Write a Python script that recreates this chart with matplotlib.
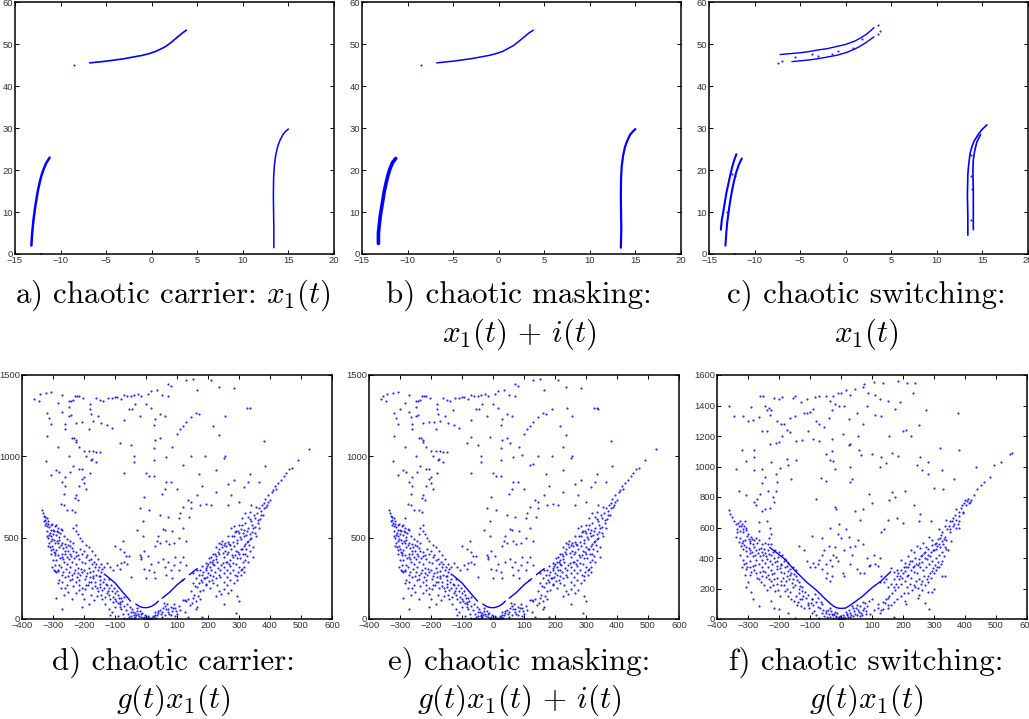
import matplotlib

matplotlib.use("Agg")

import matplotlib.pyplot as plt
import numpy as np

plt.rcParams["mathtext.fontset"] = "cm"
plt.rcParams["font.family"] = ["Liberation Sans", "DejaVu Sans"]

W, H = 1029, 719
BLUE = "#0000ff"

# top row, curves: (x, y)
carrier_left = [(-13.2, 2), (-13.15, 4), (-13.05, 6.5), (-12.95, 8.5), (-12.8, 11), (-12.65, 13), (-12.5, 15), (-12.3, 17), (-12.1, 18.7), (-11.9, 20), (-11.6, 21.6), (-11.2, 23)]
carrier_mid = [(-6.8, 45.6), (-5, 46), (-4, 46.3), (-3, 46.6), (-2, 47), (-1, 47.4), (-0.3, 47.8), (0.4, 48.3), (1, 48.9), (1.6, 49.6), (2.2, 50.6), (2.8, 51.7), (3.3, 52.6), (3.8, 53.4)]
carrier_right = [(13.4, 1.5), (13.4, 6), (13.37, 10), (13.35, 14), (13.37, 18), (13.45, 21), (13.6, 23.5), (13.8, 25.5), (14.05, 27), (14.4, 28.5), (14.7, 29.3), (15, 29.8)]
carrier_stray = [(-8.5, 45.2), (-12.2, 0.1)]

masking_left = [(-13.2, 2.5), (-13.2, 5), (-13.1, 7), (-13.0, 9), (-12.85, 11), (-12.7, 13), (-12.55, 15), (-12.35, 17), (-12.15, 18.8), (-11.95, 20.2), (-11.65, 21.8), (-11.3, 22.8)]
masking_mid = [(-6.8, 45.6), (-5, 46), (-4, 46.3), (-3, 46.6), (-2, 47), (-1, 47.4), (-0.3, 47.8), (0.4, 48.3), (1, 49), (1.6, 49.7), (2.2, 50.7), (2.8, 51.8), (3.3, 52.7), (3.8, 53.4)]
masking_right = [(13.4, 1.5), (13.45, 6), (13.42, 10), (13.4, 14), (13.42, 18), (13.5, 21), (13.65, 23.5), (13.85, 25.5), (14.1, 27), (14.4, 28.4), (14.7, 29.2), (15, 29.8)]
masking_stray = [(-8.5, 45.2)]

switch_left_a = [(-13.7, 5.8), (-13.6, 8), (-13.4, 10.5), (-13.25, 12.5), (-13.1, 14.5), (-12.9, 16.5), (-12.7, 18.5), (-12.45, 20.8), (-12.2, 22.6), (-12.0, 23.8)]
switch_left_b = [(-13.2, 2), (-13.1, 5), (-13.0, 7.5), (-12.85, 10), (-12.7, 12.3), (-12.5, 14.8), (-12.3, 17), (-12.05, 19.2), (-11.75, 21.2), (-11.4, 22.8)]
switch_mid_a = [(-7.2, 47.6), (-5, 48), (-4, 48.3), (-3, 48.7), (-2, 49), (-1, 49.5), (0, 50), (1, 50.8), (1.6, 51.5), (2.2, 52.3), (2.7, 53.2), (3.1, 54)]
switch_mid_b = [(-5.9, 45.9), (-4, 46.3), (-3, 46.6), (-2, 47), (-1, 47.4), (0, 48), (1, 48.9), (1.6, 49.6), (2.2, 50.4), (3.1, 51.8)]
switch_right_a = [(13.4, 4.5), (13.4, 9), (13.35, 14), (13.4, 19), (13.5, 21.5), (13.65, 24), (13.85, 25.6), (14.1, 27), (14.6, 28.7), (15, 29.8), (15.5, 30.8)]
switch_right_b = [(14.0, 5.8), (14.0, 10), (14.0, 15), (13.95, 20), (14.0, 22.5), (14.15, 24.6), (14.4, 26.8), (14.8, 28.5)]
switch_stray = [(-7.4, 45.5), (-7.0, 46), (-5.6, 47), (-3.7, 47.7), (-3.0, 47.3), (-1.5, 47.8), (-0.8, 48.4), (0.8, 49.2), (1.8, 51.3), (3.5, 54.7), (3.5, 52.6), (3.8, 53.2), (-12.3, 0.1), (-12.5, 19), (-12.2, 18.5), (-13.0, 10), (13.7, 8), (13.9, 15.5), (13.7, 18.5), (13.8, 23.5)]

# bottom row, scatter
carrier_arc = [(-130, 270), (-100, 222), (-75, 165), (-50, 110)]
carrier_arc_mid = [(-33, 92), (-20, 76), (-8, 70), (5, 70), (18, 78), (30, 92), (40, 110)]
carrier_arc_right = [(52, 128), (75, 162), (100, 210), (125, 248)]
carrier_arc2 = [(140, 272), (165, 310)]
carrier_upper = [
    (-361, 1355), (-345, 1340), (-343, 1385), (-322, 1390), (-307, 1395), (-285, 1330), (-320, 1265), (-312, 1235), (-305, 1200), (-318, 1125),
    (-322, 970), (-305, 885), (-283, 1055), (-272, 1270), (-272, 1380), (-262, 1200), (-250, 1340), (-243, 1340), (-235, 1345), (-228, 1370),
    (-222, 1370), (-215, 1370), (-248, 1305), (-250, 1250), (-243, 1255), (-226, 1205), (-225, 1090), (-233, 1110), (-225, 1100), (-215, 1060),
    (-202, 1360), (-182, 1320), (-180, 1290), (-178, 1260), (-160, 1360), (-150, 1345), (-155, 1250), (-140, 1340), (-122, 1360), (-110, 1360),
    (-100, 1365), (-92, 1365), (-80, 1350), (-70, 1375), (-60, 1370), (-50, 1370), (-40, 1375), (-25, 1385), (-15, 1370), (5, 1385),
    (15, 1400), (35, 1410), (50, 1380), (70, 1445), (80, 1435), (70, 1370), (-260, 1165), (-240, 1110), (-205, 1210), (-185, 1165),
    (-170, 1220), (-145, 1205), (-125, 1190), (-110, 1175), (-85, 1080), (-70, 1225), (-50, 1070), (-40, 1000), (-38, 965), (-70, 900),
    (-200, 1035), (-185, 1030), (-170, 1030), (-160, 1025), (-150, 1025), (-195, 1000), (-175, 985), (-160, 965), (-250, 1000), (-235, 940),
    (-245, 905), (-260, 870), (-270, 840), (-290, 915), (-280, 905), (-260, 820), (-265, 770), (-265, 700), (-275, 705), (-255, 670),
    (-240, 670), (-230, 655), (-225, 760), (-220, 730), (-228, 745), (-205, 925), (-215, 920), (-200, 870), (-200, 835), (-195, 800),
    (-208, 860), (-215, 820), (-180, 895), (-178, 975), (-35, 1320), (-55, 1290), (-45, 1290), (-20, 1250), (0, 1320), (15, 1300),
    (30, 1230), (45, 1260), (60, 1250), (25, 1190), (30, 1100), (25, 1050), (45, 1110), (65, 995), (85, 1060), (100, 1140), (110, 1170),
    (120, 1185), (130, 1210), (145, 1240), (160, 1265), (170, 1260), (165, 1410), (150, 1475), (130, 1470), (210, 1470), (235, 1425),
    (285, 1420), (215, 1185), (235, 1130), (255, 1245), (325, 1295), (335, 1295), (380, 1095), (385, 940), (335, 890), (330, 840),
    (365, 840), (285, 855), (265, 830), (225, 915), (170, 890), (180, 820), (165, 760), (175, 700), (195, 705), (210, 700), (225, 780),
    (250, 990), (255, 1000), (190, 1000), (145, 1005), (120, 945), (25, 975), (25, 880), (0, 895), (10, 880), (65, 845), (80, 840),
    (50, 770), (60, 800), (100, 800), (-30, 545), (-5, 750), (-20, 680), (-10, 605), (10, 670), (70, 630), (45, 640), (145, 720), (135, 730),
    (145, 680), (140, 630), (120, 690), (110, 650), (105, 620), (265, 700), (300, 720), (315, 810), (275, 760),
]
carrier_left_wedge = [
    (-335, 670), (-332, 650), (-328, 635), (-325, 610), (-320, 620), (-330, 600), (-325, 580), (-318, 570), (-312, 565), (-305, 575),
    (-295, 570), (-285, 560), (-275, 555), (-320, 540), (-310, 530), (-300, 525), (-290, 515), (-280, 505), (-315, 495), (-305, 480),
    (-295, 470), (-285, 465), (-310, 440), (-300, 430), (-290, 425), (-280, 440), (-270, 470), (-265, 510), (-255, 490), (-245, 480),
    (-235, 470), (-225, 540), (-235, 560), (-225, 580), (-218, 520), (-212, 500), (-205, 480), (-195, 455), (-185, 440), (-175, 420),
    (-165, 395), (-155, 370), (-145, 340), (-135, 320), (-305, 400), (-295, 395), (-300, 360), (-290, 360), (-295, 330), (-285, 300),
    (-275, 320), (-265, 350), (-255, 380), (-245, 400), (-235, 420), (-225, 390), (-215, 370), (-205, 350), (-195, 380), (-185, 360),
    (-175, 340), (-165, 320), (-155, 300), (-145, 290), (-135, 275), (-295, 295), (-285, 295), (-280, 240), (-270, 230), (-285, 220),
    (-275, 190), (-265, 150), (-290, 130), (-260, 260), (-250, 290), (-240, 270), (-230, 300), (-220, 280), (-210, 310), (-200, 300),
    (-190, 280), (-180, 260), (-170, 250), (-160, 270), (-150, 240), (-255, 210), (-245, 240), (-235, 200), (-225, 225), (-215, 240),
    (-205, 190), (-195, 210), (-185, 230), (-175, 190), (-165, 205), (-155, 170), (-145, 150), (-135, 190), (-125, 160), (-240, 120),
    (-225, 160), (-215, 180), (-200, 120), (-185, 90), (-270, 60), (-205, 75), (-150, 215), (-140, 230), (-130, 215), (-120, 190),
    (-110, 175), (-100, 160), (-90, 150), (-80, 130), (-115, 120), (-100, 120), (-85, 105), (-120, 145), (-260, 420), (-245, 450),
    (-315, 600), (-300, 550), (-270, 400), (-240, 350), (-225, 340), (-255, 340), (-315, 450), (-320, 510), (-288, 540), (-258, 445),
    (-125, 345), (-115, 320), (-105, 300), (-95, 330), (-85, 310), (-80, 345), (-70, 350), (-65, 385), (-55, 390), (-60, 340),
    (-100, 450), (-85, 430), (-75, 480), (-70, 410), (-50, 260),
]
carrier_left_dense = [
    (-327, 627), (-323, 593), (-316, 583), (-308, 548), (-302, 587), (-297, 543), (-291, 578), (-283, 537), (-277, 528), (-272, 547),
    (-313, 517), (-307, 508), (-302, 492), (-296, 487), (-288, 478), (-281, 486), (-274, 452), (-268, 437), (-262, 463), (-251, 452),
    (-312, 467), (-307, 423), (-303, 448), (-297, 412), (-292, 407), (-283, 392), (-278, 373), (-272, 383), (-267, 367), (-261, 398),
    (-253, 417), (-247, 368), (-242, 387), (-238, 438), (-231, 372), (-227, 412), (-219, 392), (-213, 428), (-208, 397), (-201, 417),
    (-197, 342), (-191, 392), (-183, 312), (-178, 368), (-172, 298), (-168, 352), (-161, 338), (-152, 322), (-147, 262), (-142, 306),
    (-302, 318), (-297, 304), (-291, 287), (-282, 332), (-272, 272), (-267, 291), (-258, 307), (-252, 263), (-246, 318), (-238, 247),
    (-232, 282), (-224, 258), (-218, 312), (-212, 268), (-206, 288), (-198, 246), (-192, 262), (-187, 208), (-182, 287), (-176, 229),
    (-171, 267), (-163, 228), (-158, 192), (-153, 262), (-147, 198), (-141, 178), (-137, 243), (-131, 137), (-127, 212), (-122, 172),
    (-118, 248), (-112, 208), (-107, 138), (-102, 192), (-97, 112), (-92, 172), (-87, 128), (-83, 92), (-78, 112), (-72, 137),
    (-217, 212), (-208, 152), (-197, 182), (-177, 147), (-167, 118), (-157, 142), (-142, 122), (-133, 92), (-262, 192), (-252, 168),
]
carrier_right_wedge = [
    (150, 285), (165, 300), (180, 325), (195, 345), (210, 380), (225, 440), (235, 470), (245, 480), (255, 470), (265, 475),
    (275, 560), (285, 570), (290, 540), (300, 530), (310, 575), (320, 590), (330, 630), (335, 660), (340, 600), (350, 620),
    (355, 690), (365, 680), (375, 700), (385, 740), (395, 760), (405, 780), (415, 820), (425, 835), (435, 855), (445, 880),
    (450, 900), (460, 920), (470, 930), (490, 975), (525, 1045), (420, 800), (400, 730), (380, 680), (360, 610), (345, 560),
    (350, 530), (335, 520), (325, 540), (315, 510), (305, 490), (295, 465), (285, 450), (275, 430), (265, 410), (255, 420),
    (245, 440), (235, 400), (225, 385), (215, 360), (205, 350), (195, 300), (185, 290), (175, 300), (320, 460), (310, 430),
    (300, 400), (290, 420), (280, 380), (270, 360), (260, 350), (250, 320), (240, 300), (230, 350), (220, 330), (210, 300),
    (200, 280), (190, 250), (180, 230), (170, 220), (160, 250), (150, 220), (330, 480), (340, 500), (345, 440), (335, 420),
    (325, 390), (318, 360), (310, 310), (300, 320), (290, 340), (280, 300), (270, 280), (260, 260), (250, 230), (240, 260),
    (230, 210), (215, 220), (205, 190), (195, 210), (185, 180), (175, 170), (165, 195), (155, 150), (145, 170), (135, 120),
    (125, 115), (315, 290), (305, 270), (295, 240), (285, 220), (275, 180), (265, 160), (250, 90), (235, 170), (225, 140),
    (300, 110), (290, 35), (315, 320), (320, 400), (330, 350), (345, 380), (355, 510), (365, 560), (370, 640), (390, 700),
    (410, 790), (340, 700), (320, 650), (310, 620), (300, 580), (285, 510), (265, 510), (250, 380), (215, 400), (200, 340),
]
carrier_right_dense = [
    (337, 613), (343, 578), (347, 642), (352, 563), (357, 652), (362, 592), (368, 617), (372, 667), (377, 642), (382, 712),
    (387, 687), (392, 722), (328, 557), (322, 517), (317, 547), (312, 527), (307, 552), (302, 507), (297, 542), (292, 488),
    (287, 532), (282, 473), (277, 512), (272, 452), (267, 462), (262, 397), (257, 447), (252, 452), (247, 407), (242, 458),
    (237, 432), (232, 412), (227, 367), (222, 398), (217, 337), (212, 352), (207, 322), (202, 372), (197, 327), (192, 312),
    (342, 532), (337, 492), (332, 452), (327, 472), (322, 432), (317, 447), (312, 402), (307, 432), (302, 378), (297, 412),
    (292, 372), (287, 392), (282, 342), (277, 392), (272, 327), (267, 337), (262, 302), (257, 352), (252, 282), (247, 342),
    (242, 332), (237, 272), (232, 312), (227, 252), (222, 292), (217, 262), (212, 237), (207, 272), (202, 232), (197, 258),
    (192, 217), (187, 252), (182, 272), (177, 242), (172, 268), (167, 142), (162, 112), (157, 205), (152, 127), (147, 98),
    (142, 87), (312, 352), (307, 302), (297, 292), (292, 262), (287, 272), (272, 237), (262, 212), (252, 182), (242, 152), (292, 142),
]
carrier_floor = [
    (-120, 60), (-110, 45), (-100, 75), (-90, 100), (-80, 60), (-75, 30), (-70, 80), (-60, 90), (-55, 15), (-50, 45), (-45, 60),
    (-40, 25), (-35, 35), (-30, 70), (-25, 30), (-20, 50), (-15, 10), (-10, 5), (-5, 0), (0, 5), (5, 12), (10, 0), (15, 3), (20, 6), (25, 10),
    (30, 40), (35, 25), (40, 35), (45, 55), (50, 15), (55, 70), (60, 80), (65, 60), (70, 40), (75, 30), (80, 75), (85, 50), (90, 95), (95, 70),
    (100, 30), (110, 55), (120, 115), (125, 45), (130, 110), (135, 15), (160, 60), (165, 75), (175, 120), (180, 15), (-70, 5), (-60, 0), (-50, 2), (-40, 8),
    (-170, 0), (-105, 105), (-90, 20), (-85, 75), (-115, 25), (60, 25), (105, 80),
    (-42, 43), (-37, 12), (-32, 22), (-28, 47), (-22, 18), (-17, 28), (-12, 38), (-7, 14), (-2, 22), (3, 2), (8, 18), (13, 9), (18, 1), (22, 17), (28, 24),
    (33, 8), (38, 52), (47, 33), (52, 42), (58, 98), (67, 92), (72, 62), (82, 27), (88, 68), (92, 17), (97, 47), (-64, 57), (-57, 33), (-52, 72), (-47, 18),
]
carrier_middle = [
    (-10, 510), (-5, 415), (-15, 370), (-5, 305), (10, 300), (0, 250), (-15, 380), (-18, 395), (5, 385), (25, 290), (30, 250), (15, 340),
    (30, 450), (35, 480), (40, 510), (45, 470), (55, 555), (60, 550), (65, 480), (75, 460), (85, 540), (90, 465), (105, 500), (120, 560),
    (130, 480), (40, 350), (55, 370), (60, 320), (70, 350), (80, 300), (90, 330), (95, 380), (105, 300), (110, 350), (120, 380), (130, 330),
    (65, 270), (85, 250), (115, 240),
]
masked_extra = [
    (-355, 1370), (-300, 1290), (-265, 1240), (-190, 1210), (-130, 1285), (-10, 1120), (55, 1080), (95, 1010), (190, 1290), (240, 1300),
    (340, 1290), (-70, 1120), (130, 950), (225, 1060), (-285, 620), (-240, 520), (215, 300), (300, 445), (-40, 20), (30, 5),
]

switch_arc = [(-230, 470), (-205, 430), (-180, 390), (-150, 320), (-110, 240), (-80, 190), (-50, 130), (-25, 85), (-14, 74), (-5, 70), (5, 70), (15, 72), (28, 88), (40, 105), (70, 150), (100, 205), (130, 250), (160, 310)]
switch_upper = [
    (-362, 1400), (-345, 1330), (-317, 1330), (-300, 1300), (-290, 1390), (-285, 1305), (-262, 1460), (-252, 1460), (-245, 1400), (-240, 1370),
    (-225, 1370), (-232, 1385), (-200, 1445), (-215, 1450), (-190, 1455), (-155, 1450), (-148, 1460), (-130, 1420), (-110, 1440), (-85, 1455),
    (-70, 1460), (-50, 1465), (-35, 1430), (-25, 1460), (-10, 1480), (0, 1480), (15, 1500), (30, 1470), (45, 1510), (70, 1520), (75, 1540),
    (105, 1555), (135, 1550), (185, 1560), (212, 1545), (240, 1550), (232, 1480), (88, 1480), (110, 1470), (125, 1440), (150, 1430), (190, 1420),
    (175, 1380), (275, 1370), (378, 1350), (-265, 1325), (-230, 1340), (-205, 1300), (-195, 1280), (-185, 1280), (-165, 1320), (-150, 1330),
    (-120, 1350), (-110, 1350), (-100, 1360), (-90, 1380), (-80, 1300), (-70, 1280), (-55, 1260), (-40, 1320), (-30, 1370), (-20, 1410), (-5, 1395),
    (10, 1400), (25, 1310), (50, 1350), (70, 1280), (85, 1400), (110, 1340), (130, 1330), (-240, 1230), (-255, 1230), (-230, 1150), (-210, 1155),
    (-200, 1160), (-190, 1200), (-175, 1240), (-165, 1225), (-145, 1170), (-125, 1175), (-105, 1230), (-90, 1180), (-70, 1165), (-50, 1080), (-30, 1180),
    (5, 1215), (25, 1140), (30, 1145), (55, 1200), (58, 1105), (65, 1075), (100, 1080), (130, 1065), (155, 1200), (165, 1090), (185, 1070), (200, 1230),
    (210, 1240), (225, 1200), (250, 1270), (255, 1065), (245, 1010), (280, 1030), (320, 1120), (380, 1105), (435, 1000), (325, 975), (365, 915),
    (330, 850), (300, 860), (280, 950), (260, 980), (145, 1020), (125, 1000), (30, 1000), (35, 920), (30, 900), (-65, 925), (-50, 905), (-35, 1040),
    (-25, 1035), (-20, 985), (-145, 1040), (-175, 1050), (-170, 1010), (-160, 920), (-198, 990), (-205, 900), (-210, 950), (-225, 1030), (-255, 985),
    (-280, 1105), (-280, 1060), (-280, 975), (-305, 1035), (-320, 1110), (-340, 985), (-330, 840), (-305, 810), (-280, 770), (-270, 790), (-260, 820),
    (-255, 890), (-245, 930), (-235, 840), (-220, 800), (-215, 770), (-210, 840), (-230, 730), (-245, 720), (-255, 710), (-275, 745), (-80, 790),
    (-60, 530), (-30, 1100), (-5, 620), (60, 650), (45, 710), (70, 720), (90, 820), (100, 760), (165, 830), (175, 800), (155, 780), (205, 840), (150, 650),
    (180, 665), (200, 630), (-20, 735), (-15, 720), (-35, 600), (235, 750), (255, 690), (250, 640), (290, 640), (-265, 635),
]
switch_left_wedge = [
    (-362, 715), (-358, 690), (-352, 670), (-345, 640), (-338, 620), (-335, 590), (-325, 640), (-318, 620), (-310, 640), (-305, 600), (-325, 580),
    (-315, 570), (-300, 560), (-290, 540), (-275, 530), (-265, 520), (-340, 540), (-330, 505), (-320, 500), (-310, 520), (-295, 500), (-285, 490),
    (-265, 580), (-255, 490), (-245, 500), (-235, 495), (-225, 490), (-238, 640), (-230, 600), (-225, 560), (-232, 530), (-212, 450), (-200, 440),
    (-190, 420), (-180, 395), (-170, 370), (-155, 340), (-145, 320), (-325, 420), (-315, 460), (-305, 470), (-295, 430), (-285, 410), (-275, 450),
    (-265, 460), (-255, 440), (-245, 430), (-235, 450), (-225, 420), (-215, 400), (-205, 380), (-195, 360), (-185, 380), (-175, 350), (-165, 330),
    (-315, 390), (-318, 340), (-305, 370), (-295, 380), (-285, 350), (-275, 390), (-265, 360), (-255, 390), (-245, 370), (-235, 340), (-225, 320),
    (-215, 300), (-205, 350), (-195, 310), (-185, 300), (-175, 280), (-165, 290), (-155, 260), (-145, 280), (-135, 240), (-125, 210), (-310, 290),
    (-300, 240), (-305, 210), (-295, 290), (-290, 180), (-285, 130), (-275, 300), (-265, 260), (-255, 280), (-245, 310), (-235, 290), (-225, 250),
    (-215, 260), (-205, 230), (-195, 250), (-185, 220), (-175, 200), (-165, 180), (-155, 210), (-145, 150), (-135, 170), (-125, 130), (-115, 180),
    (-265, 85), (-225, 120), (-215, 75), (-200, 65), (-170, 40), (-150, 5), (-140, 110), (-130, 85), (-120, 70), (-105, 105), (-95, 130),
    (-85, 165), (-75, 140), (-65, 110), (-105, 160), (-90, 90), (-255, 340), (-290, 310), (-135, 480), (-120, 450), (-110, 380), (-100, 340),
    (-90, 370), (-75, 360), (-60, 330), (-50, 360), (-45, 300), (-35, 390), (-30, 280), (-95, 545),
]
switch_left_dense = [
    (-332, 632), (-328, 612), (-322, 607), (-317, 593), (-312, 612), (-307, 582), (-302, 542), (-297, 527), (-292, 512), (-287, 527), (-282, 517),
    (-337, 568), (-327, 528), (-322, 478), (-317, 512), (-312, 488), (-307, 447), (-302, 412), (-297, 468), (-292, 452), (-287, 437), (-282, 472),
    (-278, 422), (-272, 497), (-268, 433), (-262, 412), (-258, 468), (-252, 417), (-248, 458), (-242, 412), (-238, 392), (-232, 428), (-228, 382),
    (-222, 362), (-218, 437), (-212, 372), (-208, 328), (-202, 407), (-198, 332), (-192, 352), (-188, 268), (-182, 338), (-178, 252), (-172, 312),
    (-168, 262), (-162, 302), (-158, 237), (-152, 298), (-147, 222), (-142, 258), (-137, 198), (-132, 218), (-127, 182), (-122, 152),
    (-312, 362), (-307, 327), (-302, 342), (-292, 338), (-282, 322), (-277, 352), (-272, 272), (-262, 308), (-258, 242), (-252, 312), (-248, 222),
    (-242, 278), (-238, 192), (-232, 262), (-228, 207), (-222, 292), (-218, 222), (-212, 182), (-208, 272), (-202, 192), (-198, 152), (-192, 222),
    (-182, 182), (-172, 148), (-162, 128), (-152, 118), (-142, 92), (-132, 128), (-112, 138), (-102, 72), (-97, 102), (-92, 128), (-82, 112),
]
switch_right_wedge = [
    (130, 285), (145, 260), (160, 335), (170, 310), (185, 300), (195, 390), (205, 370), (215, 410), (225, 450), (235, 440), (245, 480), (255, 465),
    (265, 500), (275, 470), (285, 540), (295, 520), (305, 500), (315, 590), (325, 570), (335, 610), (340, 650), (350, 640), (360, 660), (370, 720),
    (380, 700), (390, 750), (400, 780), (410, 790), (420, 780), (430, 810), (440, 850), (450, 880), (460, 900), (480, 930), (495, 1010), (515, 1030),
    (545, 1085), (550, 1090), (380, 640), (365, 620), (350, 570), (340, 520), (330, 490), (320, 470), (310, 480), (300, 450), (290, 440), (280, 420),
    (270, 400), (260, 420), (250, 370), (240, 400), (230, 380), (220, 360), (210, 340), (200, 300), (190, 280), (180, 320), (170, 260), (160, 230),
    (150, 210), (140, 240), (345, 450), (335, 470), (325, 440), (315, 420), (305, 400), (295, 380), (285, 360), (275, 340), (265, 320), (255, 340),
    (245, 300), (235, 310), (225, 270), (215, 290), (205, 250), (195, 230), (185, 210), (175, 190), (165, 170), (155, 150), (145, 130), (135, 110),
    (325, 280), (335, 285), (310, 340), (300, 300), (290, 270), (280, 240), (270, 220), (260, 190), (250, 160), (240, 210), (230, 190), (215, 170),
    (300, 200), (295, 175), (280, 180), (270, 105), (248, 140), (285, 65), (210, 100), (205, 120), (380, 600), (355, 510), (335, 540), (320, 530),
    (370, 600), (395, 700), (415, 770),
]
switch_right_dense = [
    (342, 592), (347, 612), (352, 587), (357, 642), (362, 607), (367, 682), (372, 652), (377, 622), (382, 677), (387, 727), (392, 692), (397, 762),
    (402, 747), (407, 772), (412, 762), (332, 527), (327, 512), (322, 552), (317, 492), (312, 527), (307, 462), (302, 492), (297, 452), (292, 482),
    (287, 412), (282, 462), (277, 392), (272, 442), (267, 432), (262, 377), (257, 412), (252, 392), (247, 357), (242, 362), (237, 347), (232, 342),
    (227, 322), (222, 382), (217, 342), (212, 282), (207, 312), (202, 342), (197, 272), (192, 322), (187, 262), (182, 282), (177, 232), (172, 212),
    (340, 462), (332, 412), (327, 382), (322, 362), (317, 342), (312, 372), (307, 322), (302, 352), (297, 332), (292, 312), (287, 302), (282, 282),
    (277, 262), (267, 282), (262, 252), (257, 232), (252, 262), (247, 202), (242, 252), (237, 222), (222, 232), (212, 212), (202, 172), (192, 152),
    (182, 132), (172, 112), (162, 92), (152, 72), (142, 102), (130, 62), (120, 72),
]
switch_floor = [
    (-105, 95), (-95, 40), (-88, 55), (-80, 25), (-75, 80), (-70, 5), (-60, 100), (-55, 20), (-50, 55), (-45, 15), (-40, 30), (-35, 70), (-30, 35),
    (-25, 25), (-20, 45), (-15, 10), (-10, 5), (-5, 0), (0, 5), (5, 0), (10, 15), (15, 45), (20, 25), (25, 60), (30, 10), (35, 85), (40, 70), (45, 35),
    (50, 90), (55, 60), (60, 20), (65, 40), (70, 110), (75, 75), (80, 50), (85, 85), (90, 120), (95, 35), (100, 130), (105, 60), (120, 100), (135, 65),
    (150, 140), (170, 10), (150, 90), (125, 40),
    (-48, 38), (-42, 62), (-37, 12), (-32, 52), (-27, 8), (-22, 32), (-17, 22), (-12, 42), (-7, 12), (-2, 18), (3, 8), (7, 28), (12, 4), (18, 32), (22, 12),
    (28, 42), (33, 26), (38, 17), (42, 52), (48, 72), (52, 28), (58, 47), (62, 88), (68, 24), (72, 62), (78, 102), (82, 32), (-68, 72), (-62, 42), (-57, 62),
]
switch_middle = [
    (-50, 270), (-35, 250), (-30, 345), (-55, 450), (-40, 480), (-20, 470), (-10, 560), (0, 530), (10, 450), (15, 590), (25, 540), (30, 475), (35, 420),
    (45, 480), (55, 515), (70, 490), (85, 400), (95, 355), (105, 420), (120, 350), (125, 400), (130, 570), (140, 590), (5, 300), (10, 280), (30, 360),
    (50, 330), (60, 300), (75, 300), (90, 350), (110, 360), (125, 240), (-10, 380), (-15, 405), (-25, 420), (-60, 420), (-85, 340), (-70, 390),
]

# panel limits and tick positions
xticks_top = [-15, -10, -5, 0, 5, 10, 15, 20]
yticks_top = [0, 10, 20, 30, 40, 50, 60]
xticks_bottom = [-400, -300, -200, -100, 0, 100, 200, 300, 400, 500, 600]
yticks_carrier = [0, 500, 1000, 1500]
yticks_switch = [0, 200, 400, 600, 800, 1000, 1200, 1400, 1600]


def add_panel(fig, left, right, top, bottom, xticks, yticks):
    ax = fig.add_axes([left / W, 1 - bottom / H, (right - left) / W, (bottom - top) / H])
    ax.set_xlim(xticks[0], xticks[-1])
    ax.set_ylim(yticks[0], yticks[-1])
    ax.set_xticks(xticks)
    ax.set_yticks(yticks)
    ax.tick_params(direction="in", top=True, right=True, length=3, width=0.7, labelsize=6.8, pad=1.5, labelcolor="#333333")
    for spine in ax.spines.values():
        spine.set_linewidth(1.1)
    return ax


def draw_curve(ax, points, lw):
    xs, ys = np.array(points).T
    ax.plot(xs, ys, color=BLUE, lw=lw, solid_capstyle="round")


def draw_points(ax, points, size=2.4):
    xs, ys = np.array(points).T
    ax.scatter(xs, ys, s=size, color=BLUE, linewidths=0, alpha=0.85)


fig = plt.figure(figsize=(W / 100, H / 100), dpi=100)

ax_a = add_panel(fig, 15, 334, 2.5, 254, xticks_top, yticks_top)
draw_curve(ax_a, carrier_left, 1.8)
draw_curve(ax_a, carrier_mid, 1.2)
draw_curve(ax_a, carrier_right, 1.1)
draw_points(ax_a, carrier_stray)

ax_b = add_panel(fig, 362, 681, 2.5, 254, xticks_top, yticks_top)
draw_curve(ax_b, masking_left, 2.6)
draw_curve(ax_b, masking_mid, 1.1)
draw_curve(ax_b, masking_right, 1.6)
draw_points(ax_b, masking_stray)

ax_c = add_panel(fig, 709, 1028, 2.5, 254, xticks_top, yticks_top)
for curve in [switch_left_a, switch_left_b]:
    draw_curve(ax_c, curve, 1.5)
for curve in [switch_mid_a, switch_mid_b]:
    draw_curve(ax_c, curve, 1.0)
for curve in [switch_right_a, switch_right_b]:
    draw_curve(ax_c, curve, 1.2)
draw_points(ax_c, switch_stray)

ax_d = add_panel(fig, 22, 332, 375, 619, xticks_bottom, yticks_carrier)
ax_e = add_panel(fig, 369, 679, 375, 619, xticks_bottom, yticks_carrier)
for ax in [ax_d, ax_e]:
    for curve in [carrier_arc, carrier_arc_mid, carrier_arc_right, carrier_arc2]:
        draw_curve(ax, curve, 1.0)
    for cloud in [carrier_upper, carrier_left_wedge, carrier_left_dense, carrier_right_wedge, carrier_right_dense, carrier_floor, carrier_middle]:
        draw_points(ax, cloud)
draw_points(ax_e, masked_extra)

ax_f = add_panel(fig, 717, 1027, 375, 619, xticks_bottom, yticks_switch)
draw_curve(ax_f, switch_arc, 1.0)
for cloud in [switch_upper, switch_left_wedge, switch_left_dense, switch_right_wedge, switch_right_dense, switch_floor, switch_middle]:
    draw_points(ax_f, cloud)


def caption(x, y, text):
    fig.text(x / W, 1 - y / H, text, ha="center", va="baseline", fontsize=22.3, family="cmr10")


caption(173, 303, r"a) chaotic carrier: $x_1(t)$")
caption(519, 303, r"b) chaotic masking:")
caption(519, 342, r"$x_1(t)\,+\,i(t)$")
caption(866, 303, r"c) chaotic switching:")
caption(866, 342, r"$x_1(t)$")
caption(173, 670, r"d) chaotic carrier:")
caption(173, 708, r"$g(t)x_1(t)$")
caption(519, 670, r"e) chaotic masking:")
caption(519, 708, r"$g(t)x_1(t)\,+\,i(t)$")
caption(866, 670, r"f) chaotic switching:")
caption(866, 708, r"$g(t)x_1(t)$")

fig.savefig("out.png", dpi=100)
